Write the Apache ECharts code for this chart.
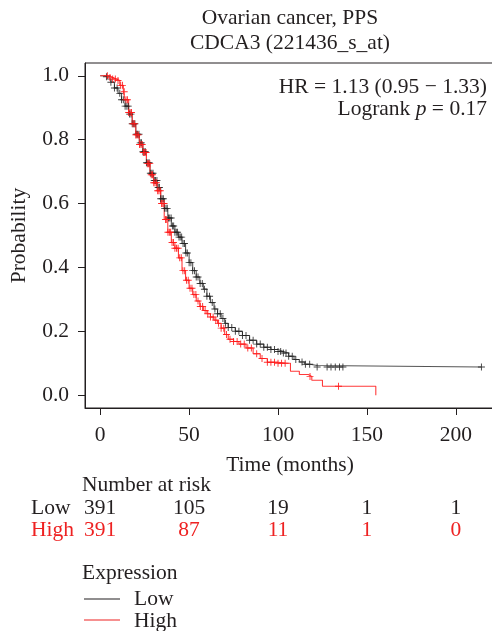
<!DOCTYPE html>
<html>
<head>
<meta charset="utf-8">
<script src="https://cdn.jsdelivr.net/npm/echarts@6/dist/echarts.min.js"></script>
<style>html,body{margin:0;padding:0;background:#fff;overflow:hidden}#c{width:496px;height:631px}</style>
</head>
<body>
<div id="c"></div>
<script>
// ---- data ----
const lowTimes = [0,2,4,6,8,10,12,14,16,18,20,22,24,26,28,30,32,34,36,38,40,42,44,46,48,50,52,54,56,58,60,62,64,66,68,70,72,76,80,84,88,92,96,100,103,106,109,112,115,118,122,214.4];
const lowSurv  = [1.0,0.997,0.99,0.98,0.962,0.945,0.925,0.905,0.88,0.85,0.817,0.79,0.762,0.728,0.695,0.672,0.65,0.615,0.585,0.555,0.53,0.51,0.495,0.475,0.445,0.415,0.39,0.37,0.35,0.332,0.31,0.29,0.27,0.255,0.24,0.225,0.212,0.2,0.187,0.172,0.16,0.15,0.143,0.137,0.132,0.122,0.112,0.104,0.097,0.093,0.0885,0.0885];
const highTimes = [0,3,5,7,9,11,13,14,16,18,20,22,24,26,28,30,32,34,36,38,40,42,44,46,48,50,52,54,56,58,60,62,64,66,68,70,72,75,78,82,86,90,94,100,105,107,112,117,119,125,155];
const highSurv  = [1.0,1.0,0.995,0.99,0.985,0.97,0.95,0.925,0.885,0.85,0.815,0.785,0.76,0.725,0.69,0.665,0.64,0.6,0.55,0.51,0.478,0.46,0.43,0.39,0.36,0.335,0.315,0.295,0.278,0.265,0.255,0.245,0.235,0.225,0.21,0.19,0.175,0.168,0.16,0.148,0.13,0.115,0.103,0.1,0.1,0.075,0.065,0.059,0.047,0.028,0.0];
const lowCensor = [3.5,6,8,9.5,11,12,13,14,15,15.8,16.5,17.3,18,18.8,19.5,20.3,21,21.8,22.5,23.2,24,24.7,25.4,26,26.8,27.5,28.2,29,29.7,30.4,31.1,31.9,32.6,33.3,34,34.8,35.5,36.2,37,37.7,38.4,39.1,39.9,40.6,41.3,42,42.8,43.5,44.3,45,45.8,46.6,47.4,48.2,49,50,51,52,53,54,55,56.2,57.4,58.6,60,61.5,63,64.5,66,67.5,69,70.5,72,74,76,78,80,82,84,86,88,90,92,94,96,98,100,101.5,103,104.5,106,108,110,113.5,115.4,117.8,122,127.6,129.8,132.2,134.6,136.5,214.4];
const highCensor = [4,5.5,7,8.5,10,11.5,12.5,13.5,14.5,15.3,16,16.8,17.6,18.4,19.2,20,20.7,21.4,22.1,22.9,23.6,24.3,25,25.8,26.5,27.2,27.9,28.7,29.4,30.1,30.8,31.6,32.3,33,33.8,34.5,35.2,35.9,36.7,37.4,38.1,38.9,39.6,40.4,41.2,42,42.9,43.8,44.7,45.6,46.5,47.5,48.5,49.5,50.5,51.6,52.7,53.8,55,56.3,57.6,59,60.5,62,63.5,65,66.5,68,69.5,71,73,75,77,79,81,83,85,88,91,94,96,98,100,102,104,118,134];
const xTicks = [0,50,100,150,200];
const yTicks = [0,0.2,0.4,0.6,0.8,1.0];
const riskTimes = [0,50,100,150,200];
const riskLow = [391,105,19,1,1];
const riskHigh = [391,87,11,1,0];
const titleLines = ['Ovarian cancer, PPS','CDCA3 (221436_s_at)'];

// ---- styles ----
const FONT = 'Liberation Serif, Times New Roman, serif';
const INK = '#231f20';
const RED = '#ee2222';
const FS = 21.5;

function pairs(t, s){ return t.map((v,i)=>[v, s[i]]); }
function survAt(t, times, surv){
  let v = surv[0];
  for (let i=0;i<times.length;i++){ if (times[i] <= t) v = surv[i]; else break; }
  return v;
}
const plus = 'path://M0,2.6H6V3.4H0Z M2.6,0H3.4V6H2.6Z';

const chart = echarts.init(document.getElementById('c'), null, {renderer:'canvas'});
const option = {
  animation:false,
  grid:{left:85, top:63, right:0, bottom:223, show:true, borderColor:INK, borderWidth:1, backgroundColor:'transparent'},
  xAxis:{type:'value', min:-8.56, max:222.6,
    axisLine:{show:true, onZero:false, lineStyle:{color:INK, width:1}}, splitLine:{show:false},
    axisTick:{show:true, inside:false, length:7, lineStyle:{color:INK}, customValues:xTicks},
    axisLabel:{customValues:xTicks, margin:16, color:INK, fontSize:FS, fontFamily:FONT}
  },
  yAxis:{type:'value', min:-0.04, max:1.04,
    axisLine:{show:true, onZero:false, lineStyle:{color:INK, width:1}}, splitLine:{show:false},
    axisTick:{show:true, inside:false, length:7, lineStyle:{color:INK}, customValues:yTicks},
    axisLabel:{customValues:yTicks, margin:16, color:INK, fontSize:FS, fontFamily:FONT, formatter:v=>v.toFixed(1)},
    name:'Probability', nameLocation:'middle', nameGap:55, nameTextStyle:{color:INK, fontSize:FS, fontFamily:FONT}
  },
  series:[
    {type:'line', step:'end', data:pairs(lowTimes, lowSurv), showSymbol:false, symbol:'none', lineStyle:{color:'#555', width:1.1}, z:3},
    {type:'line', step:'end', data:pairs(highTimes, highSurv), showSymbol:false, symbol:'none', lineStyle:{color:'#ff3a3a', width:1.1}, z:4},
    {type:'scatter', data:lowCensor.map(t=>[t, survAt(t, lowTimes, lowSurv)]), symbol:plus, symbolSize:7, itemStyle:{color:'#222', opacity:0.85}, z:5},
    {type:'scatter', data:highCensor.map(t=>[t, survAt(t, highTimes, highSurv)]), symbol:plus, symbolSize:7, itemStyle:{color:'#ff1a1a', opacity:0.9}, z:6}
  ]
};
chart.setOption(option);

const font = FS + 'px ' + FONT;
const g = [];
g.push({type:'text', style:{text:titleLines[0], x:290, y:18, font:font, fill:INK, align:'center', verticalAlign:'middle'}});
g.push({type:'text', style:{text:titleLines[1], x:290, y:43, font:font, fill:INK, align:'center', verticalAlign:'middle'}});
g.push({type:'text', style:{text:'HR = 1.13 (0.95 \u2212 1.33)', x:487, y:87, font:font, fill:INK, align:'right', verticalAlign:'middle'}});
g.push({type:'text', style:{text:'{a|Logrank }{i|p}{a| = 0.17}', x:487, y:109, align:'right', verticalAlign:'middle',
  rich:{a:{fontSize:FS, fontFamily:FONT, fill:INK}, i:{fontSize:FS, fontFamily:FONT, fontStyle:'italic', fill:INK}}}});
g.push({type:'text', style:{text:'Time (months)', x:290, y:465, font:font, fill:INK, align:'center', verticalAlign:'middle'}});
g.push({type:'text', style:{text:'Number at risk', x:82, y:485, font:font, fill:INK, align:'left', verticalAlign:'middle'}});
g.push({type:'text', style:{text:'Low', x:31, y:508, font:font, fill:INK, align:'left', verticalAlign:'middle'}});
g.push({type:'text', style:{text:'High', x:31, y:530, font:font, fill:RED, align:'left', verticalAlign:'middle'}});
riskTimes.forEach((t,i)=>{
  const px = chart.convertToPixel({xAxisIndex:0}, t);
  g.push({type:'text', style:{text:String(riskLow[i]), x:px, y:508, font:font, fill:INK, align:'center', verticalAlign:'middle'}});
  g.push({type:'text', style:{text:String(riskHigh[i]), x:px, y:530, font:font, fill:RED, align:'center', verticalAlign:'middle'}});
});
g.push({type:'text', style:{text:'Expression', x:82, y:573, font:font, fill:INK, align:'left', verticalAlign:'middle'}});
g.push({type:'line', shape:{x1:84, y1:599, x2:120, y2:599}, style:{stroke:INK, lineWidth:1.2}});
g.push({type:'text', style:{text:'Low', x:134, y:599, font:font, fill:INK, align:'left', verticalAlign:'middle'}});
g.push({type:'line', shape:{x1:84, y1:620, x2:120, y2:620}, style:{stroke:RED, lineWidth:1.2}});
g.push({type:'text', style:{text:'High', x:134, y:621, font:font, fill:INK, align:'left', verticalAlign:'middle'}});
chart.setOption({graphic:g});
</script>
</body>
</html>
